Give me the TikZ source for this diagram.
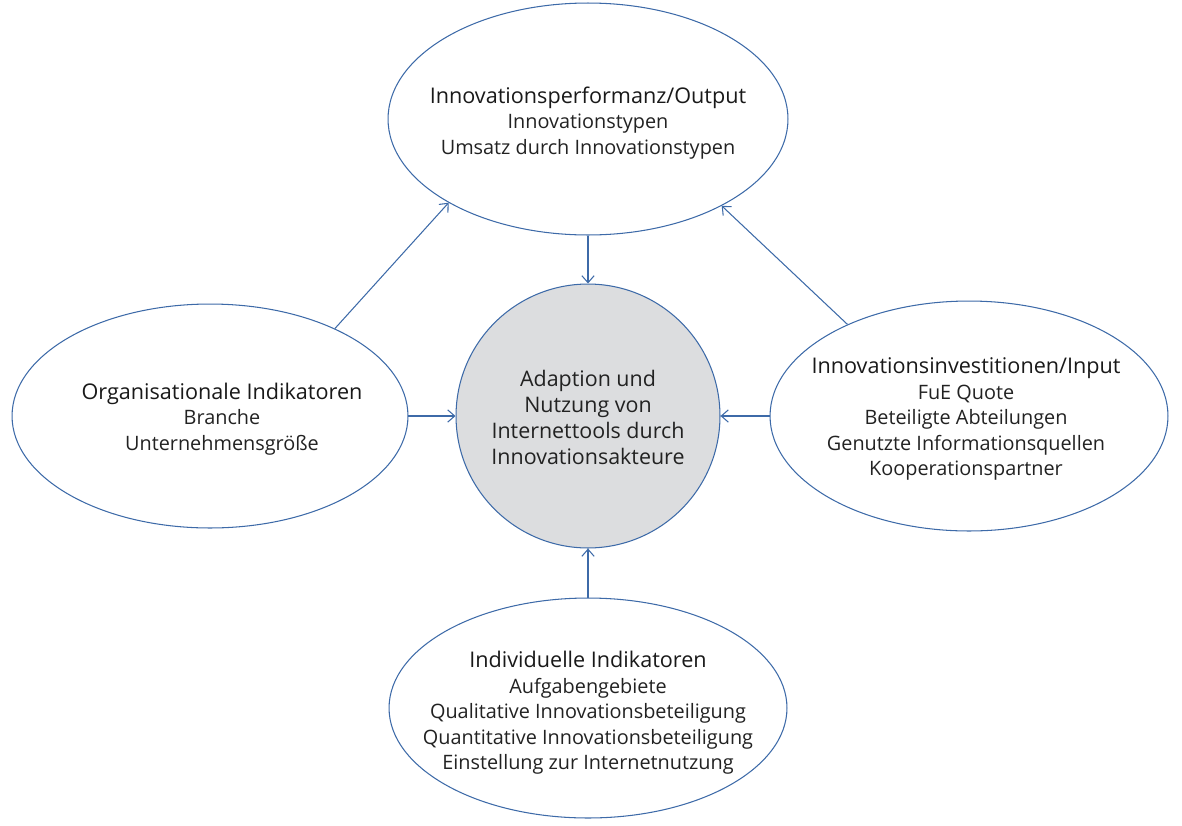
\documentclass[tikz,border=0pt]{standalone}
\usepackage{fontspec}
\setmainfont{Open Sans}
\usetikzlibrary{shapes.geometric,arrows.meta}
\definecolor{lineblue}{HTML}{3D6AA8}
\definecolor{circfill}{HTML}{DCDDDF}
\definecolor{txt}{HTML}{222222}
\tikzset{
  oval/.style={ellipse, draw=lineblue, line width=0.6pt, inner sep=0pt},
  ovaltext/.style={align=center, text=txt, inner sep=0pt, font=\fontsize{11.3}{14.5}\selectfont},
  hub/.style={circle, draw=lineblue, line width=0.6pt, fill=circfill, inner sep=0pt, minimum size=5.28cm},
  hubtext/.style={align=center, text=txt, inner sep=0pt, font=\fontsize{12.2}{14.8}\selectfont},
  link/.style={draw=lineblue, line width=0.6pt, -{Straight Barb[length=4pt,width=7pt]}}
}
\newcommand{\hd}[1]{{\fontsize{12.3}{14.5}\selectfont\color{black!90} #1}}
\begin{document}
\begin{tikzpicture}[x=0.02cm,y=-0.02cm]
\useasboundingbox (0,0) rectangle (1182,825);
\node[hub] (c) at (588,416) {};
\node[hubtext] (ct) at (588,417) {Adaption und\\Nutzung von\\Internettools durch\\Innovationsakteure};
\node[oval, minimum width=8cm, minimum height=4.64cm] (t) at (588,119) {};
\node[ovaltext] (tt) at (588,123) {\hd{Innovationsperformanz/Output}\\Innovationstypen\\Umsatz durch Innovationstypen};
\node[oval, minimum width=7.92cm, minimum height=4.48cm] (l) at (210,416) {};
\node[ovaltext] (lt) at (222,419) {\hd{Organisationale Indikatoren}\\Branche\\Unternehmensgröße};
\node[oval, minimum width=7.96cm, minimum height=4.6cm] (r) at (969,416) {};
\node[ovaltext] (rt) at (966,419) {\hd{Innovationsinvestitionen/Input}\\FuE Quote\\Beteiligte Abteilungen\\Genutzte Informationsquellen\\Kooperationspartner};
\node[oval, minimum width=7.96cm, minimum height=4.4cm] (b) at (588,708) {};
\node[ovaltext] (bt) at (588,713) {\hd{Individuelle Indikatoren}\\Aufgabengebiete\\Qualitative Innovationsbeteiligung\\Quantitative Innovationsbeteiligung\\Einstellung zur Internetnutzung};
\draw[link] (t.south) -- (c.north);
\draw[link] (l.east) -- (c.west);
\draw[link] (r.west) -- (c.east);
\draw[link] (b.north) -- (c.south);
\draw[link] (l.35.6) -- (t.211.8);
\draw[link] (r.143.9) -- (t.327.6);
\end{tikzpicture}
\end{document}
